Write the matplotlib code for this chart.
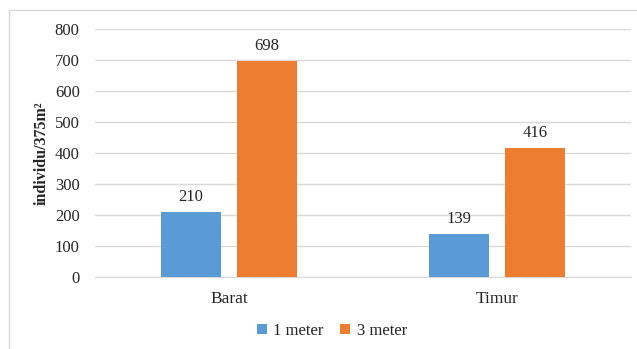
import numpy as np
import matplotlib.pyplot as plt
from matplotlib.patches import Rectangle

# Data
lokasi = ['Barat', 'Timur']
jarak = ['1 meter', '3 meter']
nilai_1m = [210, 139]
nilai_3m = [698, 416]
warna = ['#5B9BD5', '#ED7D31']

plt.rcParams['font.family'] = ['Liberation Serif', 'DejaVu Serif']

fig = plt.figure(figsize=(6.37, 3.49), dpi=100)
ax = fig.add_axes([95 / 637, 1 - 277 / 349, (631 - 95) / 637, (277 - 29) / 349])

# chart border
fig.patches.append(Rectangle((9 / 637, -0.01), 0.99, 1 - 10 / 349 + 0.01,
                             transform=fig.transFigure, fill=False,
                             edgecolor='#d9d9d9', linewidth=1))

x = np.arange(len(lokasi))
lebar = 0.224
offset = 0.142

b1 = ax.bar(x - offset, nilai_1m, lebar, color=warna[0], label=jarak[0], zorder=3)
b2 = ax.bar(x + offset, nilai_3m, lebar, color=warna[1], label=jarak[1], zorder=3)

for bars in (b1, b2):
    for b in bars:
        ax.annotate(f'{int(b.get_height())}', (b.get_x() + b.get_width() / 2, b.get_height()),
                    xytext=(0, 5), textcoords='offset points', ha='center', va='bottom',
                    fontsize=12, color='#262626')

ax.set_xlim(-0.5, 1.5)
ax.set_ylim(0, 800)
ax.set_yticks(np.arange(0, 801, 100))
ax.set_xticks(x)
ax.set_xticklabels(lokasi)
ax.tick_params(axis='y', length=0, labelsize=12, colors='#262626', pad=11)
ax.tick_params(axis='x', length=0, labelsize=12.5, colors='#262626', pad=10)
ax.yaxis.grid(True, color='#d9d9d9', linewidth=1, zorder=0)
for s in ['top', 'right', 'left']:
    ax.spines[s].set_visible(False)
ax.spines['bottom'].set_color('#d9d9d9')
ax.set_ylabel('individu/375m²', fontsize=11.5, fontweight='bold', color='#262626', labelpad=4)

fig.legend(loc='center', bbox_to_anchor=(332 / 637, 1 - 331 / 349), ncol=2, frameon=False,
           fontsize=12, handlelength=0.6, handleheight=0.6, handletextpad=0.4,
           columnspacing=1.0, labelcolor='#262626')

plt.savefig('out.png', dpi=100)
